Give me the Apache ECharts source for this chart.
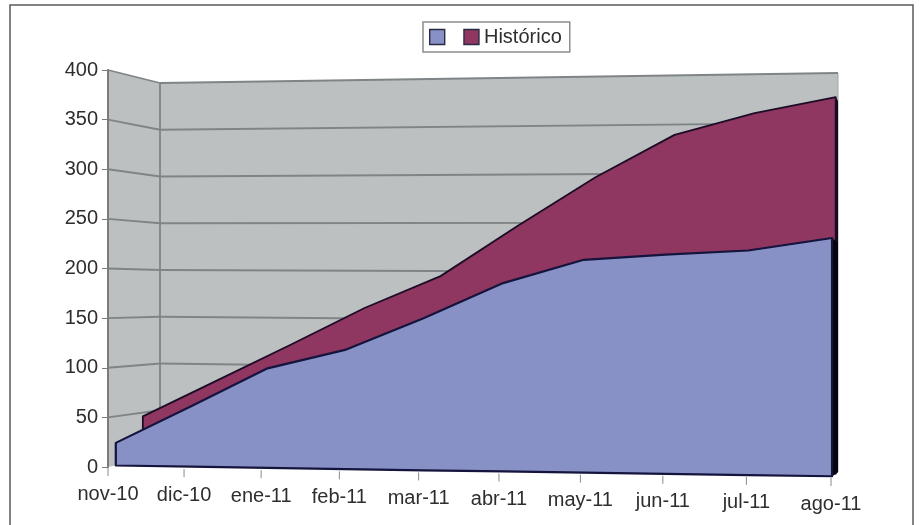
<!DOCTYPE html>
<html>
<head>
<meta charset="utf-8">
<style>html,body{margin:0;padding:0;background:#fff}#c{width:920px;height:525px}</style>
<script src="https://cdn.jsdelivr.net/npm/echarts@6/dist/echarts.min.js"></script>
</head>
<body>
<div id="c"></div>
<script>
const months = ['nov-10','dic-10','ene-11','feb-11','mar-11','abr-11','may-11','jun-11','jul-11','ago-11'];
const yTicks = [0,50,100,150,200,250,300,350,400];
const frontValues = [23,61,100,119,151,186,209,214,218,230];
const historico = [46,84,122,161,194,245,294,336,357,372];

const BLUE = '#8791c6', RED = '#8f3661', WALL = '#bcc0c1', GRID = '#7f8486';
const FAMILY = '"Liberation Sans", Arial, sans-serif';
const FONT_SIZE = 20;
const FONT = FONT_SIZE + 'px ' + FAMILY;

const GRID_L = 108, GRID_W = 723, GRID_T = 70, GRID_H = 397;

// Depth slots of the oblique view: axis plane, blue ribbon, burgundy ribbon, back wall
const DEPTH_BLUE = 0.15, DEPTH_BLUE_BACK = 1, DEPTH_RED = 0.67, DEPTH_RED_BACK = 1;

// Corner positions of the box: front plane (depth 0) and back wall (depth 1)
const box = {
  fl: {x: 108, b: 467, t: 70}, fr: {x: 831, b: 477, t: 60},
  bl: {x: 160, b: 457, t: 83}, br: {x: 838, b: 472, t: 73}
};
const lerp = (a, b, k) => a + (b - a) * k;

// Takes a pixel from the flat cartesian grid and returns it in the box view
function project(pt, d) {
  const raw = (pt[0] - GRID_L) / GRID_W;
  const u = 0.94 * raw + 0.06 * raw * raw;
  const v = (GRID_T + GRID_H - pt[1]) / GRID_H;
  const xL = lerp(box.fl.x, box.bl.x, d), xR = lerp(box.fr.x, box.br.x, d);
  const bL = lerp(box.fl.b, box.bl.b, d), bR = lerp(box.fr.b, box.br.b, d);
  const tL = lerp(box.fl.t, box.bl.t, d), tR = lerp(box.fr.t, box.br.t, d);
  const bot = lerp(bL, bR, raw), top = lerp(tL, tR, raw);
  return [lerp(xL, xR, u), lerp(bot, top, v)];
}

const last = months.length - 1;
const rows = arr => arr.map((v, i) => [i, v]);

// Walls, gridlines and the x axis furniture, all placed from the axis scales
function renderWalls(params, api) {
  if (params.dataIndex !== 0) return null;
  const c = (i, v, d) => project(api.coord([i, v]), d);
  const top = yTicks[yTicks.length - 1];
  const kids = [];
  const poly = (points, fill) => kids.push({type: 'polygon', shape: {points}, style: {fill, stroke: null}});
  const line = (a, b, stroke, lineWidth) => kids.push({type: 'line',
    shape: {x1: a[0], y1: a[1], x2: b[0], y2: b[1]}, style: {stroke, lineWidth}});
  poly([c(0,0,0), c(0,top,0), c(0,top,1), c(0,0,1)], WALL);
  poly([c(0,0,1), c(0,top,1), c(last,top,1), c(last,0,1)], WALL);
  yTicks.forEach(v => {
    if (v === 0) return;
    line(c(0,v,0), c(0,v,1), GRID, 1.8);
    line(c(0,v,1), c(last,v,1), GRID, 1.8);
  });
  line(c(0,0,1), c(0,top,1), GRID, 1.8);
  line(c(last,0,1), c(last,top,1), '#a0a4a6', 1);
  line(c(last,0,0), c(last,0,1), '#9a9a9a', 1);
  months.forEach((m, i) => {
    const p = c(i, 0, 0);
    line([p[0], p[1] + 1], [p[0], p[1] + 9], '#8a8a8a', 1);
    kids.push({type: 'text', style: {text: m, x: p[0], y: p[1] + 27, font: FONT,
      fill: '#2e2e2e', align: 'center', verticalAlign: 'middle'}});
  });
  return {type: 'group', children: kids};
}

// One ribbon of the chart: front face plus its dark end cap on the right
function ribbon(values, depth, backDepth, fill, stroke, capFill, strokeWidth) {
  return function (params, api) {
    if (params.dataIndex !== last) return null;
    const c = (i, v, d) => project(api.coord([i, v]), d);
    const upper = values.map((v, i) => c(i, v, depth));
    const lower = values.map((v, i) => c(i, 0, depth)).reverse();
    return {type: 'group', children: [
      {type: 'polygon', shape: {points: [
        c(last, values[last], depth), c(last, values[last], backDepth),
        c(last, 0, backDepth), c(last, 0, depth)]}, style: {fill: capFill, stroke: null}},
      {type: 'polygon', shape: {points: upper.concat(lower)},
        style: {fill, stroke, lineWidth: strokeWidth, lineJoin: 'round'}}
    ]};
  };
}

const chart = echarts.init(document.getElementById('c'), null, {renderer: 'canvas'});
chart.setOption({
  animation: false,
  backgroundColor: '#fff',
  graphic: [{type: 'rect', silent: true, z: 0,
    shape: {x: 10, y: 5, width: 903, height: 540},
    style: {fill: 'none', stroke: '#5a5a5a', lineWidth: 1.5}}],
  legend: {
    left: 423, top: 22, padding: [5, 8, 5, 6], itemGap: 8,
    data: [' ', 'Histórico'],
    itemWidth: 15, itemHeight: 15, icon: 'rect',
    itemStyle: {borderColor: '#2a2a44', borderWidth: 1.4},
    backgroundColor: '#fff', borderColor: '#8c8c8c', borderWidth: 1.5,
    textStyle: {fontFamily: FAMILY, fontSize: FONT_SIZE, color: '#2e2e2e'}
  },
  grid: {left: GRID_L, top: GRID_T, width: GRID_W, height: GRID_H},
  xAxis: {type: 'category', data: months, boundaryGap: false,
    axisLine: {show: false}, axisTick: {show: false}, axisLabel: {show: false}, splitLine: {show: false}},
  yAxis: {type: 'value', min: 0, max: 400, interval: 50,
    axisLine: {show: true, lineStyle: {color: '#7b7b7b', width: 2}},
    axisTick: {show: true, length: 6, lineStyle: {color: '#7b7b7b', width: 1}},
    axisLabel: {margin: 10, fontFamily: FAMILY, fontSize: FONT_SIZE, color: '#2e2e2e'},
    splitLine: {show: false}, z: 5},
  series: [
    {type: 'custom', name: 'walls', silent: true, z: 1, data: rows(months.map(() => 0)), renderItem: renderWalls},
    {type: 'custom', name: 'Histórico', z: 2, itemStyle: {color: RED}, data: rows(historico),
      renderItem: ribbon(historico, DEPTH_RED, DEPTH_RED_BACK, RED, '#1c0c26', '#1a0a1e', 1.8)},
    {type: 'custom', name: ' ', z: 3, itemStyle: {color: BLUE}, data: rows(frontValues),
      renderItem: ribbon(frontValues, DEPTH_BLUE, DEPTH_BLUE_BACK, BLUE, '#14143c', '#05050f', 2.2)}
  ]
});
</script>
</body>
</html>
